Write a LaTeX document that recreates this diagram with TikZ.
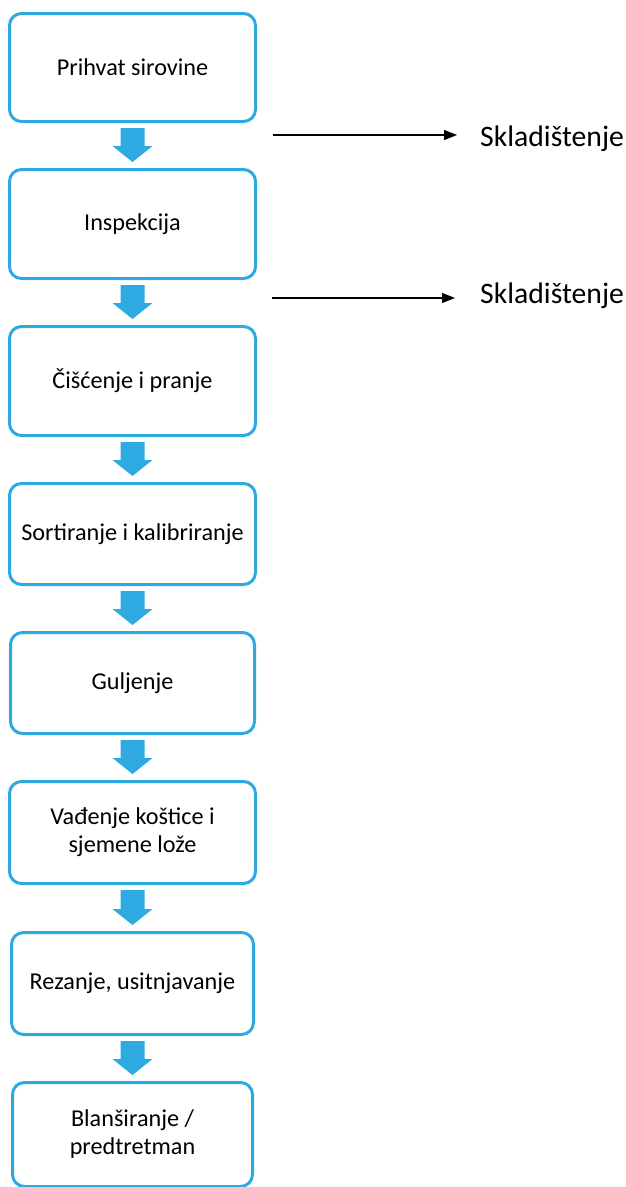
\documentclass[tikz,border=0pt]{standalone}
\usepackage{fontspec}
\setmainfont{Carlito}
\usetikzlibrary{arrows.meta,calc}
\definecolor{flowblue}{RGB}{44,170,225}
\tikzset{
  stepbox/.style={draw=flowblue, line width=3pt, rounded corners=12pt, fill=white,
    align=center, font=\fontsize{24.2}{28}\selectfont, inner sep=0pt},
  sidetext/.style={font=\fontsize{29.7}{34}\selectfont, inner sep=0pt, anchor=base west},
  sidearrow/.style={draw=black, line width=1.3pt, -{Triangle[length=13pt,width=10pt]}},
}
% block arrow between two stacked steps
\newcommand\flowarrow[2]{%
  \fill[flowblue] let \p1=(#1.south), \p2=(#2.north) in
    (\x1-12pt,\y1-5pt) -- (\x1+12pt,\y1-5pt) -- (\x1+12pt,\y2+22pt) --
    (\x1+20pt,\y2+22pt) -- (\x1,\y2+6pt) -- (\x1-20pt,\y2+22pt) --
    (\x1-12pt,\y2+22pt) -- cycle;}
\begin{document}
\begin{tikzpicture}[x=1pt,y=-1pt]
  \useasboundingbox (0,0) rectangle (626,1187);
  \clip (0,0) rectangle (626,1187);

  % process steps
  \node[stepbox, minimum width=246, minimum height=108] (b1) at (132.5,67.5) {Prihvat sirovine};
  \node[stepbox, minimum width=246, minimum height=109] (b2) at (132.5,224) {Inspekcija};
  \node[stepbox, minimum width=246, minimum height=109] (b3) at (132.5,381) {Čišćenje i pranje};
  \node[stepbox, minimum width=246, minimum height=101] (b4) at (132.5,534) {Sortiranje i kalibriranje};
  \node[stepbox, minimum width=244, minimum height=101] (b5) at (132.5,683) {Guljenje};
  \node[stepbox, minimum width=246, minimum height=102] (b6) at (132.5,832.5) {Vađenje koštice i\\sjemene lože};
  \node[stepbox, minimum width=242, minimum height=102] (b7) at (132.5,983.5) {Rezanje, usitnjavanje};
  \node[stepbox, minimum width=240, minimum height=104] (b8) at (132.5,1134.5) {Blanširanje /\\predtretman};

  % flow between steps
  \flowarrow{b1}{b2}
  \flowarrow{b2}{b3}
  \flowarrow{b3}{b4}
  \flowarrow{b4}{b5}
  \flowarrow{b5}{b6}
  \flowarrow{b6}{b7}
  \flowarrow{b7}{b8}

  % storage branches
  \node[sidetext] (s1) at (480,146.5) {Skladištenje};
  \node[sidetext] (s2) at (480,303) {Skladištenje};
  \coordinate (a1) at (273,135);
  \coordinate (a2) at (271.5,298);
  \draw[sidearrow, shorten >=23pt] (a1) -- (a1 -| s1.west);
  \draw[sidearrow, shorten >=25pt] (a2) -- (a2 -| s2.west);
\end{tikzpicture}
\end{document}
